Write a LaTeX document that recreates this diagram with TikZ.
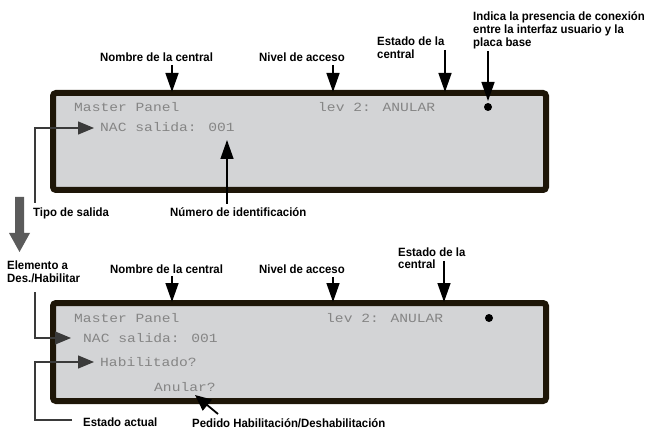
\documentclass[tikz,border=0pt]{standalone}
\usepackage{fontspec}
\setmainfont{Liberation Sans}
\newfontfamily\lblfont[FakeStretch=0.95]{Liberation Sans}
\newfontfamily\lcd[FakeStretch=1.17]{Liberation Mono}
\usetikzlibrary{arrows.meta}
\definecolor{bordercol}{HTML}{1E1608}
\definecolor{lcdfill}{HTML}{D3D4D6}
\definecolor{lcdtext}{HTML}{858585}
\definecolor{bigarrow}{HTML}{5B5B5B}
\definecolor{linecol}{HTML}{3A3A3A}
\begin{document}
\begin{tikzpicture}[x=1pt,y=-1pt,
 lbl/.style={font=\lblfont\bfseries\fontsize{12}{13}\selectfont, inner sep=0pt, anchor=base west, align=left},
 lcdtxt/.style={font=\lcd\fontsize{12.5}{12.5}\selectfont, text=lcdtext, inner sep=0pt, anchor=base west},
 panel/.style={draw=bordercol, fill=lcdfill, line width=6pt, rounded corners=3pt},
 callout/.style={line width=1.4pt, draw=black, -{Triangle[length=19pt,width=13pt]}},
 leader/.style={line width=1.4pt, draw=linecol, -{Triangle[length=16pt,width=13pt]}},
 led/.style={circle, fill=black, inner sep=0pt, minimum size=8pt}]
\useasboundingbox (0,0) rectangle (650,430);

% ---------- top panel ----------
\path[panel] (53,93) rectangle (546,190);
\node[lcdtxt] (mpA) at (74,112) {Master Panel};
\node[lcdtxt] (levA) at (318,112) {lev 2: ANULAR};
\node[lcdtxt] (nacA) at (100,132) {NAC salida: 001};
\node[led] (ledA) at (488,107) {};

\node[lbl] (nombreA) at (100,62) {Nombre de la central};
\node[lbl] (nivelA) at (259,62) {Nivel de acceso};
\node[lbl] (estadoA) at (377,59) {Estado de la\\central};
\node[lbl] (indica) at (473,47) {Indica la presencia de conexión\\entre la interfaz usuario y la\\placa base};
\node[lbl] (tipo) at (33,217) {Tipo de salida};
\node[lbl] (numero) at (170,217) {Número de identificación};

\coordinate (nombreAs) at (172,65);  \coordinate (nombreAt) at (172,92);
\coordinate (nivelAs) at (333,65);   \coordinate (nivelAt) at (333,92);
\coordinate (estadoAs) at (445,50);  \coordinate (estadoAt) at (445,92);
\coordinate (indicaS) at (488,51);   \coordinate (indicaT) at (488,101);
\draw[callout] (nombreAs) -- (nombreAt);
\draw[callout] (nivelAs) -- (nivelAt);
\draw[callout] (estadoAs) -- (estadoAt);
\draw[callout] (indicaS) -- (indicaT);

\coordinate (tipoS) at (35,203); \coordinate (tipoT) at (94,128);
\draw[leader] (tipoS) |- (tipoT);
\coordinate (numS) at (227,204); \coordinate (numT) at (227,140);
\draw[callout] (numS) -- (numT);

% ---------- big down arrow ----------
\fill[bigarrow] (15,197) -- (24,197) -- (24,233) -- (30,233) -- (19.5,252)
  -- (9,233) -- (15,233) -- cycle;

% ---------- bottom panel ----------
\path[panel] (53,303) rectangle (546,401);
\node[lcdtxt] (mpB) at (74,322) {Master Panel};
\node[lcdtxt] (levB) at (326,322) {lev 2: ANULAR};
\node[lcdtxt] (nacB) at (83,342) {NAC salida: 001};
\node[lcdtxt] (habB) at (100,366) {Habilitado?};
\node[lcdtxt] (anuB) at (154,391) {Anular?};
\node[led] (ledB) at (489,318) {};

\node[lbl] (elemento) at (7,282) {Elemento a\\Des./Habilitar};
\node[lbl] (nombreB) at (110,273) {Nombre de la central};
\node[lbl] (nivelB) at (259,273) {Nivel de acceso};
\node[lbl] (estadoB) at (398,269) {Estado de la\\central};
\node[lbl] (actual) at (83,426) {Estado actual};
\node[lbl] (pedido) at (192,427) {Pedido Habilitación/Deshabilitación};

\coordinate (nombreBs) at (172,276); \coordinate (nombreBt) at (172,302);
\coordinate (nivelBs) at (333,277);  \coordinate (nivelBt) at (333,302);
\coordinate (estadoBs) at (444,261); \coordinate (estadoBt) at (444,302);
\draw[callout] (nombreBs) -- (nombreBt);
\draw[callout] (nivelBs) -- (nivelBt);
\draw[callout] (estadoBs) -- (estadoBt);

\coordinate (elemS) at (35,292); \coordinate (elemT) at (71,338);
\draw[leader] (elemS) |- (elemT);
\coordinate (actS) at (72,420); \coordinate (actB) at (35,420); \coordinate (actT) at (94,362);
\draw[leader] (actS) -- (actB) |- (actT);
\coordinate (pedS) at (218,414); \coordinate (pedT) at (195,395);
\draw[line width=1.8pt, -{Triangle[length=16pt,width=14pt]}] (pedS) -- (pedT);
\end{tikzpicture}
\end{document}
